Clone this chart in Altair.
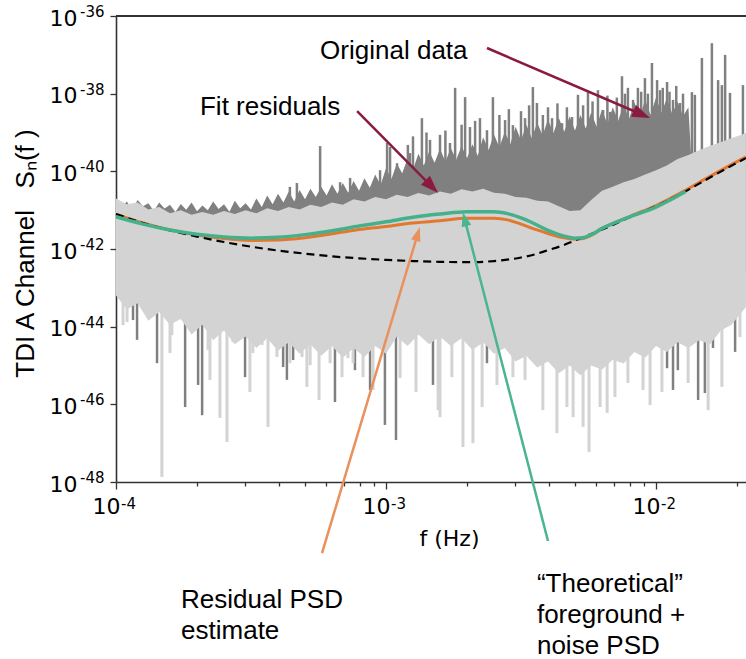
import math
import altair as alt
import pandas as pd

# ---------------- data (log10 units) ----------------
# "Original data" (dark grey): jagged upper edge of the dense body  (log10 f, log10 S)
dark_body = [
    (-4.00, -40.72), (-3.98, -40.95), (-3.96, -40.78), (-3.94, -40.98), (-3.92, -40.74), (-3.90, -40.90),
    (-3.88, -40.82), (-3.86, -41.02), (-3.84, -40.80), (-3.82, -40.96), (-3.80, -40.86), (-3.78, -41.05),
    (-3.76, -40.84), (-3.74, -40.99), (-3.72, -40.80), (-3.70, -41.03), (-3.68, -40.88), (-3.66, -41.00),
    (-3.64, -40.78), (-3.62, -40.97), (-3.60, -40.85), (-3.58, -41.04), (-3.56, -40.76), (-3.54, -40.95),
    (-3.52, -40.82), (-3.50, -40.98), (-3.48, -40.70), (-3.46, -40.92), (-3.44, -40.62), (-3.42, -40.85),
    (-3.40, -40.58), (-3.38, -40.80), (-3.36, -40.52), (-3.34, -40.78), (-3.32, -40.48), (-3.30, -40.72),
    (-3.28, -40.45), (-3.26, -40.66), (-3.24, -40.40), (-3.22, -40.62), (-3.20, -40.33), (-3.18, -40.58),
    (-3.16, -40.30), (-3.14, -40.55), (-3.12, -40.25), (-3.10, -40.50), (-3.08, -40.18), (-3.06, -40.42),
    (-3.04, -40.08), (-3.02, -40.35), (-3.00, -39.92), (-2.98, -40.20), (-2.96, -39.80), (-2.94, -40.05),
    (-2.92, -39.66), (-2.90, -39.95), (-2.88, -39.55), (-2.86, -39.85), (-2.84, -39.48), (-2.82, -39.78),
    (-2.80, -39.42), (-2.78, -39.75), (-2.76, -39.40), (-2.74, -39.70), (-2.72, -39.35), (-2.70, -39.66),
    (-2.68, -39.30), (-2.66, -39.60), (-2.64, -39.12), (-2.62, -39.45), (-2.60, -39.05), (-2.58, -39.38),
    (-2.56, -38.98), (-2.54, -39.30), (-2.52, -38.85), (-2.50, -39.20), (-2.48, -38.80), (-2.46, -39.15),
    (-2.44, -38.74), (-2.42, -39.08), (-2.40, -38.66), (-2.38, -39.02), (-2.36, -38.62), (-2.34, -38.98),
    (-2.32, -38.58), (-2.30, -38.95), (-2.28, -38.55), (-2.26, -38.90), (-2.24, -38.48), (-2.22, -38.85),
    (-2.20, -38.40), (-2.18, -38.78), (-2.16, -38.35), (-2.14, -38.70), (-2.12, -38.28), (-2.10, -38.65),
    (-2.08, -38.22), (-2.06, -38.60), (-2.04, -38.15), (-2.02, -38.55), (-2.00, -38.10), (-1.98, -38.50),
    (-1.96, -38.12), (-1.94, -38.52), (-1.92, -38.20), (-1.90, -38.58), (-1.88, -38.35), (-1.87, -39.60),
    (-1.80, -39.42), (-1.74, -39.25), (-1.667, -39.05),
]
# tall spikes of the original data (log10 f, log10 S at spike top)
dark_up_spikes = [
    (-3.356, -40.40), (-3.330, -40.30), (-3.244, -39.35), (-3.170, -40.28), (-3.133, -40.17), (-3.022, -39.97),
    (-2.996, -39.27), (-2.985, -39.37), (-2.959, -39.79), (-2.919, -39.32), (-2.911, -39.53), (-2.867, -38.63),
    (-2.837, -39.19), (-2.800, -39.06), (-2.763, -39.27), (-2.744, -37.85), (-2.707, -38.09), (-2.689, -38.86),
    (-2.652, -38.63), (-2.626, -38.94), (-2.604, -38.09), (-2.559, -38.68), (-2.530, -38.81), (-2.485, -38.63),
    (-2.456, -37.83), (-2.441, -38.24), (-2.419, -38.55), (-2.385, -38.63), (-2.348, -38.76), (-2.311, -38.60),
    (-2.289, -38.03), (-2.252, -37.96), (-2.215, -37.91), (-2.196, -38.42), (-2.170, -38.47), (-2.126, -37.55),
    (-2.104, -37.85), (-2.085, -38.16), (-2.067, -37.85), (-2.041, -37.60), (-2.015, -37.21), (-1.996, -37.65),
    (-1.985, -37.91), (-1.959, -37.70), (-1.937, -38.16), (-1.911, -38.24), (-1.867, -37.96), (-1.856, -38.03),
    (-1.830, -37.08), (-1.793, -36.70), (-1.770, -37.65), (-1.756, -37.78), (-1.744, -37.00), (-1.726, -37.98),
    (-1.678, -37.78),
    # medium spikes of the dense forest
    (-2.900, -39.10), (-2.850, -39.00), (-2.780, -38.95), (-2.720, -38.80), (-2.670, -38.70), (-2.580, -38.55),
    (-2.545, -38.40), (-2.500, -38.45), (-2.470, -38.30), (-2.400, -38.35), (-2.365, -38.25), (-2.330, -38.35),
    (-2.270, -38.30), (-2.235, -38.20), (-2.180, -38.05), (-2.145, -38.10), (-2.115, -38.00), (-2.055, -37.95),
    (-2.030, -38.00), (-1.975, -37.85), (-1.950, -37.95), (-1.925, -37.80), (-1.900, -38.00),
]
# downward spikes of the original data that reach below the residuals
dark_down_spikes = [
    (-3.937, -43.83), (-3.922, -44.34), (-3.848, -44.94), (-3.744, -46.07), (-3.696, -45.50), (-3.681, -46.28),
    (-3.522, -45.30), (-3.478, -44.29), (-3.381, -45.04), (-3.367, -45.37), (-3.344, -44.86), (-3.189, -45.94),
    (-3.115, -45.12), (-3.059, -45.63), (-3.004, -46.53), (-2.963, -46.92), (-2.826, -45.50), (-2.626, -44.94),
    (-1.959, -45.07), (-1.937, -45.63), (-1.919, -45.12), (-1.844, -45.89), (-1.819, -45.71), (-1.789, -44.55),
    (-1.707, -44.65),
]
# "Fit residuals" (light grey): (log10 f, upper edge, lower edge)
light_body = [
    (-4.00, -40.70, -43.20), (-3.96, -40.85, -43.55), (-3.92, -40.80, -43.40), (-3.88, -40.98, -43.85),
    (-3.84, -40.92, -43.62), (-3.80, -41.08, -43.95), (-3.76, -41.00, -43.80), (-3.72, -41.12, -44.20),
    (-3.68, -41.05, -43.95), (-3.64, -41.12, -44.35), (-3.60, -41.02, -44.10), (-3.56, -41.10, -44.45),
    (-3.52, -41.00, -44.25), (-3.48, -41.08, -44.55), (-3.44, -40.95, -44.30), (-3.40, -41.02, -44.62),
    (-3.36, -40.92, -44.40), (-3.32, -40.98, -44.70), (-3.28, -40.86, -44.45), (-3.24, -40.92, -44.75),
    (-3.20, -40.80, -44.50), (-3.16, -40.86, -44.80), (-3.12, -40.72, -44.55), (-3.08, -40.78, -44.78),
    (-3.04, -40.66, -44.50), (-3.00, -40.72, -44.70), (-2.96, -40.60, -44.25), (-2.92, -40.66, -44.50),
    (-2.88, -40.56, -44.20), (-2.84, -40.62, -44.45), (-2.80, -40.52, -44.25), (-2.76, -40.58, -44.50),
    (-2.72, -40.46, -44.30), (-2.68, -40.52, -44.60), (-2.64, -40.45, -44.40), (-2.60, -40.55, -44.70),
    (-2.56, -40.58, -44.55), (-2.52, -40.66, -44.90), (-2.48, -40.68, -44.75), (-2.44, -40.76, -45.05),
    (-2.40, -40.78, -44.90), (-2.36, -40.90, -45.20), (-2.32, -41.02, -45.00), (-2.28, -41.00, -45.25),
    (-2.24, -40.74, -45.00), (-2.20, -40.50, -45.10), (-2.16, -40.40, -44.85), (-2.12, -40.28, -44.95),
    (-2.08, -40.20, -44.65), (-2.04, -40.08, -44.80), (-2.00, -39.97, -44.50), (-1.96, -39.85, -44.65),
    (-1.92, -39.68, -44.40), (-1.88, -39.58, -44.55), (-1.84, -39.46, -44.35), (-1.80, -39.34, -44.45),
    (-1.76, -39.25, -44.10), (-1.72, -39.14, -43.95), (-1.68, -39.05, -43.60), (-1.667, -39.00, -43.50),
]
light_down_spikes = [
    (-3.974, -43.96), (-3.959, -43.88), (-3.881, -43.78), (-3.830, -47.87), (-3.800, -44.68), (-3.793, -44.22),
    (-3.700, -44.01), (-3.659, -44.60), (-3.652, -45.37), (-3.615, -46.35), (-3.589, -46.97), (-3.567, -44.40),
    (-3.504, -45.68), (-3.493, -44.68), (-3.459, -44.47), (-3.437, -46.58), (-3.404, -44.78), (-3.356, -44.94),
    (-3.311, -44.78), (-3.293, -45.55), (-3.281, -44.99), (-3.248, -45.89), (-3.207, -44.94), (-3.163, -45.30),
    (-3.141, -44.81), (-3.122, -44.94), (-3.085, -45.30), (-3.048, -45.63), (-2.948, -45.32), (-2.889, -45.68),
    (-2.807, -46.15), (-2.800, -46.33), (-2.756, -45.30), (-2.715, -47.10), (-2.678, -47.00), (-2.644, -46.07),
    (-2.589, -45.50), (-2.530, -45.30), (-2.485, -45.37), (-2.419, -46.15), (-2.367, -46.74), (-2.330, -46.07),
    (-2.307, -46.33), (-2.270, -46.58), (-2.248, -47.23), (-2.207, -46.07), (-2.181, -46.22), (-2.152, -45.81),
    (-2.104, -45.45), (-2.048, -45.63), (-2.022, -46.02), (-1.978, -45.68), (-1.881, -45.45), (-1.807, -46.15),
    (-1.756, -45.55), (-1.689, -44.27),
]
# Residual PSD estimate (orange)
residual_psd = [
    (-4.0, -41.10), (-3.9, -41.33), (-3.8, -41.51), (-3.7, -41.64), (-3.6, -41.73), (-3.5, -41.78),
    (-3.4, -41.77), (-3.3, -41.71), (-3.2, -41.61), (-3.1, -41.50), (-3.0, -41.42), (-2.9, -41.33),
    (-2.8, -41.27), (-2.7, -41.21), (-2.6, -41.21), (-2.55, -41.25), (-2.5, -41.36), (-2.45, -41.49),
    (-2.4, -41.60), (-2.35, -41.70), (-2.3, -41.75), (-2.27, -41.73), (-2.24, -41.65), (-2.2, -41.48),
    (-2.1, -41.17), (-2.0, -40.88), (-1.9, -40.52), (-1.8, -40.13), (-1.7, -39.75), (-1.667, -39.63),
]
# Instrument noise (black dashed)
noise_psd = [
    (-4.0, -41.10), (-3.9, -41.33), (-3.8, -41.52), (-3.7, -41.68), (-3.6, -41.82), (-3.5, -41.94),
    (-3.4, -42.04), (-3.3, -42.12), (-3.2, -42.19), (-3.1, -42.24), (-3.0, -42.28), (-2.9, -42.31),
    (-2.8, -42.33), (-2.7, -42.34), (-2.6, -42.31), (-2.5, -42.22), (-2.45, -42.14), (-2.4, -42.03),
    (-2.35, -41.92), (-2.3, -41.78), (-2.25, -41.64), (-2.2, -41.50), (-2.1, -41.19), (-2.0, -40.90),
    (-1.9, -40.55), (-1.8, -40.16), (-1.7, -39.78), (-1.667, -39.66),
]
# "Theoretical" foreground + noise PSD (green)
theory_psd = [
    (-4.0, -41.17), (-3.9, -41.36), (-3.8, -41.51), (-3.7, -41.62), (-3.6, -41.69), (-3.5, -41.72),
    (-3.4, -41.70), (-3.3, -41.63), (-3.2, -41.53), (-3.1, -41.41), (-3.0, -41.30), (-2.9, -41.18),
    (-2.8, -41.10), (-2.7, -41.04), (-2.6, -41.04), (-2.55, -41.09), (-2.5, -41.20), (-2.45, -41.35),
    (-2.4, -41.52), (-2.35, -41.65), (-2.3, -41.72), (-2.27, -41.71), (-2.24, -41.63), (-2.2, -41.47),
    (-2.1, -41.18), (-2.0, -40.92), (-1.9, -40.56), (-1.89, -40.52),
]
# annotation arrows: (tail log10 f, tail log10 S, tip log10 f, tip log10 S, colour, head length)
arrows = [
    (-2.626, -36.824, -2.022, -38.627, "#8b1a40", 18),
    (-3.107, -38.447, -2.807, -40.558, "#8b1a40", 18),
    (-3.237, -49.830, -2.875, -41.440, "#e8915c", 14),
    (-2.400, -49.520, -2.715, -41.060, "#4ab58e", 14),
]
# annotation texts: (lines, log10 f, log10 S of first baseline)
notes = [
    (["Original data"], -3.244, -37.107),
    (["Fit residuals"], -3.689, -38.550),
    (["Residual PSD", "estimate"], -3.759, -51.246),
    (["\u201cTheoretical\u201d", "foreground +", "noise PSD"], -2.441, -50.834),
]
x_ticks = [1e-4, 2e-4, 3e-4, 4e-4, 5e-4, 6e-4, 7e-4, 8e-4, 9e-4,
           1e-3, 2e-3, 3e-3, 4e-3, 5e-3, 6e-3, 7e-3, 8e-3, 9e-3, 1e-2, 2e-2]
x_decades = [1e-4, 1e-3, 1e-2]
y_ticks = [1e-48, 1e-46, 1e-44, 1e-42, 1e-40, 1e-38, 1e-36]

# ---------------- geometry ----------------
W, H = 630, 466
XMIN, XMAX = -4.0, -4.0 + 630 / 270
YMIN, YMAX = -48.0, -36.0
KX = W / (XMAX - XMIN)
KY = H / (YMAX - YMIN)

DARK = "#808080"
LIGHT = "#d3d3d3"
AXIS = "#333333"


def p(v):
    return 10 ** v


def expo(v):
    return "-" + str(abs(int(round(math.log10(v)))))


dark_df = pd.DataFrame({"f": [p(a) for a, b in dark_body], "S": [p(b) for a, b in dark_body]})
dup_df = pd.DataFrame({"f": [p(a) for a, b in dark_up_spikes], "S": [p(b) for a, b in dark_up_spikes]})
ddn_df = pd.DataFrame({"f": [p(a) for a, b in dark_down_spikes], "S": [p(b) for a, b in dark_down_spikes]})
light_df = pd.DataFrame({"f": [p(a) for a, b, c in light_body],
                         "S": [p(b) for a, b, c in light_body],
                         "S2": [p(c) for a, b, c in light_body]})
ldn_df = pd.DataFrame({"f": [p(a) for a, b in light_down_spikes], "S": [p(b) for a, b in light_down_spikes]})
res_df = pd.DataFrame({"f": [p(a) for a, b in residual_psd], "S": [p(b) for a, b in residual_psd]})
noi_df = pd.DataFrame({"f": [p(a) for a, b in noise_psd], "S": [p(b) for a, b in noise_psd]})
the_df = pd.DataFrame({"f": [p(a) for a, b in theory_psd], "S": [p(b) for a, b in theory_psd]})
yexp_df = pd.DataFrame({"S": y_ticks, "e": [expo(v) for v in y_ticks]})
xexp_df = pd.DataFrame({"f": x_decades, "e": [expo(v) for v in x_decades]})

shafts, heads = [], []
for tx, ty, hx, hy, col, hl in arrows:
    dx = (hx - tx) * KX
    dy = (ty - hy) * KY
    L = math.hypot(dx, dy)
    ang = math.degrees(math.atan2(dx, -dy)) % 360
    ex = hx - (dx / L) * hl * 0.6 / KX
    ey = hy + (dy / L) * hl * 0.6 / KY
    shafts.append({"f": p(tx), "S": p(ty), "f2": p(ex), "S2": p(ey), "c": col})
    heads.append({"f": p(hx), "S": p(hy), "angle": ang, "size": hl * hl, "c": col})
shaft_df = pd.DataFrame(shafts)
head_df = pd.DataFrame(heads)
note_df = pd.DataFrame({"t": [n[0] for n in notes], "f": [p(n[1]) for n in notes], "S": [p(n[2]) for n in notes]})

is_decade = "abs(log(datum.value)/LN10 - round(log(datum.value)/LN10)) < 0.01"

xscale = alt.Scale(type="log", domain=[p(XMIN), p(XMAX)], nice=False)
yscale = alt.Scale(type="log", domain=[p(YMIN), p(YMAX)], nice=False)

xaxis = alt.Axis(
    values=x_ticks, labelExpr=is_decade + " ? '10' : ''",
    tickSize={"condition": {"test": is_decade, "value": 7}, "value": 4},
    tickColor=AXIS, tickWidth=1.3, domainColor=AXIS, domainWidth=1.6,
    labelFont="DejaVu Sans", labelFontSize=22, labelColor="black", labelPadding=7,
    labelFlush=False, labelOverlap=False, labelBaseline="top", labelAlign="right", labelOffset=4,
    grid=False,
    title="f (Hz)", titleFont="DejaVu Sans", titleFontSize=22, titleFontWeight="normal",
    titleColor="black", titleX=333, titleY=63, titleAlign="center", titleBaseline="alphabetic",
)
yaxis = alt.Axis(
    values=y_ticks, labelExpr="'10'", tickSize=6, tickColor=AXIS, tickWidth=1.3,
    domainColor=AXIS, domainWidth=1.6, labelFont="DejaVu Sans", labelFontSize=22,
    labelColor="black", labelPadding=33, labelFlush=False, labelOverlap=False,
    labelBaseline="alphabetic", labelOffset=9, grid=False,
    title="TDI A Channel\u00a0\u00a0\u00a0S\u2099(f\u00a0)", titleFont="Liberation Sans", titleFontSize=26,
    titleFontWeight="normal", titleColor="black", titleAngle=270, titleX=-83, titleY=237,
    titleAlign="center", titleBaseline="alphabetic",
)

X = alt.X("f:Q", scale=xscale, axis=xaxis)
Y = alt.Y("S:Q", scale=yscale, axis=yaxis)
x_ = alt.X("f:Q")
y_ = alt.Y("S:Q")

dark_area = alt.Chart(dark_df).mark_area(color=DARK).encode(x=X, y=Y, y2=alt.datum(p(-42.6)))
dark_up = alt.Chart(dup_df).mark_rule(color=DARK, strokeWidth=2.5).encode(x=x_, y=y_, y2=alt.datum(p(-41.0)))
dark_dn = alt.Chart(ddn_df).mark_rule(color=DARK, strokeWidth=2.5).encode(x=x_, y=y_, y2=alt.datum(p(-43.0)))
light_area = alt.Chart(light_df).mark_area(color=LIGHT).encode(x=x_, y=y_, y2="S2:Q")
light_dn = alt.Chart(ldn_df).mark_rule(color=LIGHT, strokeWidth=3).encode(x=x_, y=y_, y2=alt.datum(p(-43.0)))
res_line = alt.Chart(res_df).mark_line(color="#e3772e", strokeWidth=3, interpolate="monotone").encode(x=x_, y=y_)
noi_line = alt.Chart(noi_df).mark_line(color="black", strokeWidth=2.2, strokeDash=[8, 5],
                                       interpolate="monotone").encode(x=x_, y=y_)
the_line = alt.Chart(the_df).mark_line(color="#45b08c", strokeWidth=3.5, interpolate="monotone").encode(x=x_, y=y_)
shaft = alt.Chart(shaft_df).mark_rule(strokeWidth=2.5).encode(
    x=x_, y=y_, x2="f2:Q", y2="S2:Q", color=alt.Color("c:N", scale=None))
head = alt.Chart(head_df).mark_point(shape="M0,0L0.7,2L-0.7,2Z", filled=True, opacity=1, strokeWidth=0).encode(
    x=x_, y=y_, angle=alt.Angle("angle:Q", scale=None), size=alt.Size("size:Q", scale=None),
    color=alt.Color("c:N", scale=None))
text = alt.Chart(note_df).mark_text(align="left", baseline="alphabetic", font="Liberation Sans",
                                    fontSize=26, lineHeight=31, color="black").encode(x=x_, y=y_, text="t")
# tick-label exponents (smaller, raised), one per labelled tick
y_exp = alt.Chart(yexp_df).mark_text(align="left", baseline="alphabetic", font="DejaVu Sans", fontSize=15,
                                     color="black", dy=1).encode(x=alt.value(-36), y=y_, text="e")
x_exp = alt.Chart(xexp_df).mark_text(align="left", baseline="alphabetic", font="DejaVu Sans", fontSize=15,
                                     color="black", dx=5).encode(x=x_, y=alt.value(H + 27), text="e")
top_spine = alt.Chart(note_df).mark_rule(color=AXIS, strokeWidth=1.6).encode(
    x=alt.value(0), x2=alt.value(W), y=alt.value(0))

chart = alt.layer(
    dark_area, dark_up, dark_dn, light_area, light_dn, res_line, noi_line, the_line,
    shaft, head, text, y_exp, x_exp, top_spine,
).properties(
    width=W, height=H,
    autosize=alt.AutoSizeParams(type="none"),
    padding={"left": 116, "top": 16, "right": 0, "bottom": 177},
).configure_view(stroke=None)

chart.save("out.html", embed_options={"renderer": "svg", "actions": False})
